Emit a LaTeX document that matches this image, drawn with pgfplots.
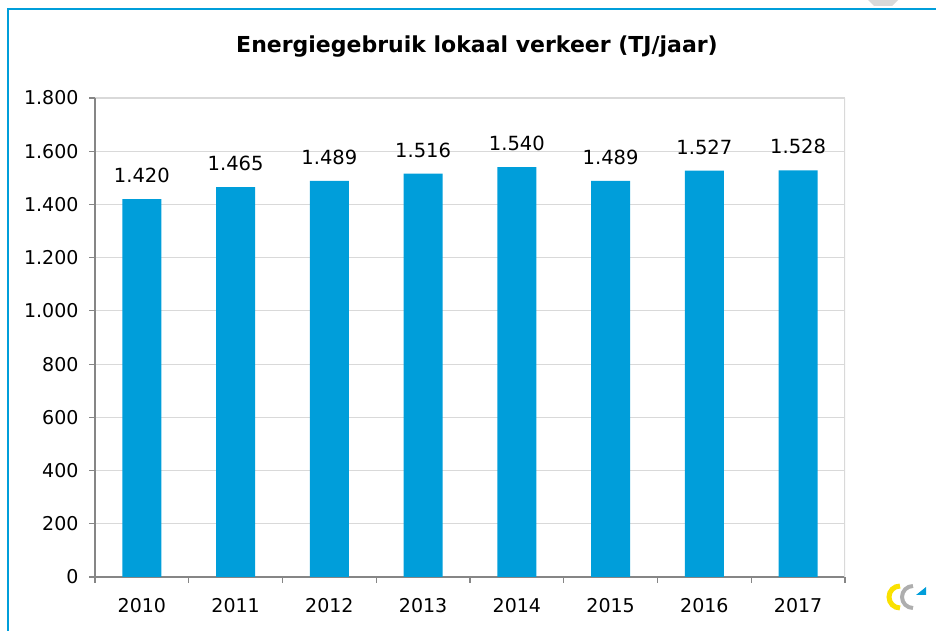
\documentclass[border=0pt]{standalone}
\usepackage{pgfplots}
\pgfplotsset{compat=1.18}
\usepackage{fontspec}
\setmainfont{DejaVu Sans}
\definecolor{barblue}{RGB}{0,158,218}
\definecolor{gridgray}{RGB}{217,217,217}
\definecolor{axgray}{RGB}{134,134,134}
\definecolor{logoyellow}{RGB}{250,225,0}
\begin{document}
\begin{tikzpicture}[x=1pt,y=1pt]
\useasboundingbox (0,0) rectangle (936,631);
\fill[gridgray] (868,631) -- (898,631) -- (892,625) -- (874,625) -- cycle;
\draw[barblue, line width=2] (8,622) rectangle (980,-30);
\node[font=\bfseries\fontsize{22}{26}\selectfont] at (477,584) {Energiegebruik lokaal verkeer (TJ/jaar)};
% small logo
\draw[logoyellow, line width=5] (900,45) arc[start angle=90, end angle=270, radius=11];
\draw[gridgray!80!black, line width=4] (913,45) arc[start angle=90, end angle=270, radius=11];
\fill[barblue] (916,36) -- (926,36) -- (926,44) -- cycle;
\begin{axis}[
  at={(95pt,54pt)}, anchor=south west,
  scale only axis, width=750pt, height=479pt,
  xmin=-0.5, xmax=7.5, ymin=0, ymax=1800,
  axis x line*=bottom, axis y line*=left,
  axis line style={axgray, line width=1.2pt},
  ytick={0,200,...,1800},
  ymajorgrids, grid style={gridgray, line width=1.2pt},
  ytick style={axgray, line width=1.2pt},
  major tick length=6pt, tick align=outside,
  xtick={0,...,7},
  xticklabels={2010,2011,2012,2013,2014,2015,2016,2017},
  xtick style={draw=none},
  extra x ticks={-0.5,0.5,1.5,2.5,3.5,4.5,5.5,6.5,7.5},
  extra x tick labels={},
  extra x tick style={xtick style={draw=axgray, line width=1.2pt}, grid=none},
  ticklabel style={font=\fontsize{19}{23}\selectfont},
  yticklabel style={xshift=-7pt},
  xticklabel style={yshift=-12pt},
  scaled y ticks=false,
  /pgf/number format/.cd, 1000 sep={.}, assume math mode=true,
  /pgfplots/.cd,
  ybar, bar width=39pt,
  nodes near coords,
  every node near coord/.append style={font=\fontsize{19.5}{23}\selectfont, anchor=south, inner sep=0pt, yshift=16pt, black},
]
\addplot[fill=barblue, draw=none] coordinates {(0,1420) (1,1465) (2,1489) (3,1516) (4,1540) (5,1489) (6,1527) (7,1528)};
\draw[gridgray, line width=1.2pt] (axis cs:7.5,0) -- (axis cs:7.5,1800);
\end{axis}
\end{tikzpicture}
\end{document}
